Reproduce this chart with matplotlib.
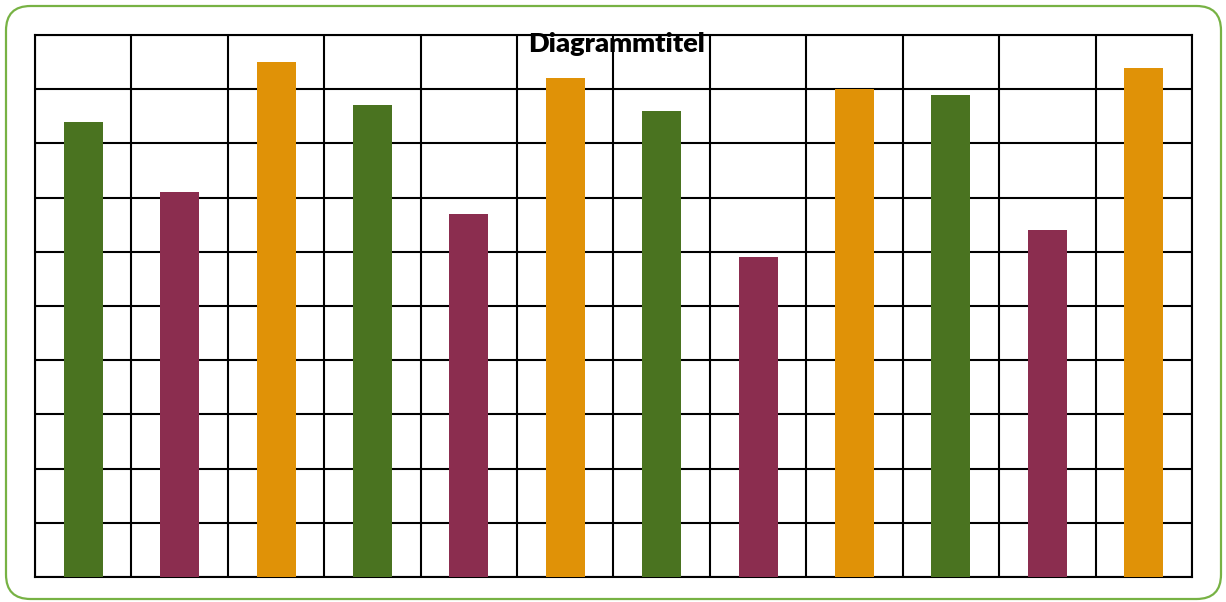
import numpy as np
import matplotlib.pyplot as plt
from matplotlib.patches import FancyBboxPatch

# bar values (one gridline = 1)
values = [8.4, 7.1, 9.5, 8.7, 6.7, 9.2, 8.6, 5.9, 9.0, 8.9, 6.4, 9.4]
colors = ['#4a7320', '#8b2d4f', '#e09207'] * 4
title = "Diagrammtitel"

fig = plt.figure(figsize=(12.26, 6.02), dpi=100)
ax = fig.add_axes([0.02855, 0.04153, 0.9437, 0.9003])

x = np.arange(len(values))
ax.bar(x, values, width=0.405, color=colors, zorder=3)

ax.set_xlim(-0.5, len(values) - 0.5)
ax.set_ylim(0, 10)
ax.set_xticks(np.arange(-0.5, len(values), 1))
ax.set_yticks(np.arange(0, 11, 1))
ax.tick_params(length=0, labelbottom=False, labelleft=False)
ax.grid(True, color='black', linewidth=1.5, zorder=1)
for s in ax.spines.values():
    s.set_color('black')
    s.set_linewidth(1.5)
    s.set_zorder(2)

fig.text(0.5025, 0.927, title, ha='center', va='center', fontsize=19.5,
         fontweight='heavy', family='Lato', zorder=5)

border = FancyBboxPatch((6 / 1226, 3 / 602), 1215 / 1226, 593 / 602,
                        boxstyle="round,pad=0,rounding_size=0.02",
                        transform=fig.transFigure, facecolor='none',
                        edgecolor='#77b244', linewidth=1.6,
                        mutation_aspect=1226 / 602)
fig.patches.append(border)

plt.savefig("out.png")
